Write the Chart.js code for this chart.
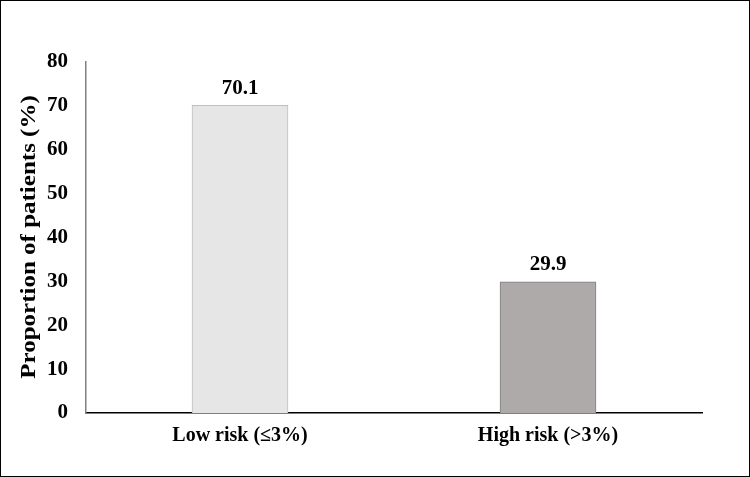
<!DOCTYPE html>
<html lang="en">
<head>
    <meta charset="UTF-8">
    <title>Proportion of patients</title>
    <script src="https://cdn.jsdelivr.net/npm/chart.js"></script>
    <style>
        body {
            margin: 0;
            padding: 0;
            background: #fff;
        }
        #wrap {
            width: 748px;
            height: 475px;
            border: 1px solid #000;
            position: relative;
        }
    </style>
</head>
<body>
    <div id="wrap"><canvas id="riskChart"></canvas></div>
    <script>
        const categories = ['Low risk (\u22643%)', 'High risk (>3%)'];
        const proportions = [70.1, 29.9];
        const yTicks = [0, 10, 20, 30, 40, 50, 60, 70, 80];
        const yTitle = 'Proportion of patients (%)';

        const serif = '"Liberation Serif", "Times New Roman", serif';

        // value labels above bars + stretched y axis title
        const extras = {
            id: 'extras',
            afterDatasetsDraw(chart) {
                const ctx = chart.ctx;
                const meta = chart.getDatasetMeta(0);
                ctx.save();
                ctx.font = 'bold 21px ' + serif;
                ctx.fillStyle = '#000';
                ctx.textAlign = 'center';
                ctx.textBaseline = 'middle';
                meta.data.forEach((bar, i) => {
                    ctx.fillText(proportions[i].toFixed(1), bar.x, bar.y - 17);
                });
                ctx.restore();

                ctx.save();
                ctx.translate(29, 236);
                ctx.rotate(-Math.PI / 2);
                ctx.scale(1.25, 1);
                ctx.font = 'bold 20px ' + serif;
                ctx.fillStyle = '#000';
                ctx.textAlign = 'center';
                ctx.textBaseline = 'middle';
                ctx.fillText(yTitle, 0, 0);
                ctx.restore();
            }
        };

        new Chart(document.getElementById('riskChart'), {
            type: 'bar',
            data: {
                labels: categories,
                datasets: [{
                    data: proportions,
                    backgroundColor: ['#e6e6e6', '#aeaaaa'],
                    borderColor: ['#bfbfbf', '#7f7f7f'],
                    borderWidth: 1,
                    barThickness: 96
                }]
            },
            options: {
                responsive: true,
                maintainAspectRatio: false,
                animation: false,
                layout: { padding: { top: 61, right: 47, left: 0, bottom: 0 } },
                plugins: {
                    legend: { display: false },
                    tooltip: { enabled: false }
                },
                scales: {
                    x: {
                        grid: { display: false, drawTicks: false },
                        border: { display: true, color: '#000', width: 1.5 },
                        afterFit(scale) { scale.height = 63; },
                        ticks: {
                            color: '#000',
                            padding: 11,
                            font: { family: serif, size: 20, weight: 'bold' }
                        }
                    },
                    y: {
                        min: 0,
                        max: 80,
                        afterFit(scale) { scale.width = 85; },
                        afterBuildTicks(scale) {
                            scale.ticks = yTicks.map(v => ({ value: v }));
                        },
                        grid: { display: false, drawTicks: false },
                        border: { display: true, color: '#808080', width: 1.5 },
                        ticks: {
                            color: '#000',
                            padding: 18,
                            font: { family: serif, size: 21, weight: 'bold' }
                        }
                    }
                }
            },
            plugins: [extras]
        });
    </script>
</body>
</html>
